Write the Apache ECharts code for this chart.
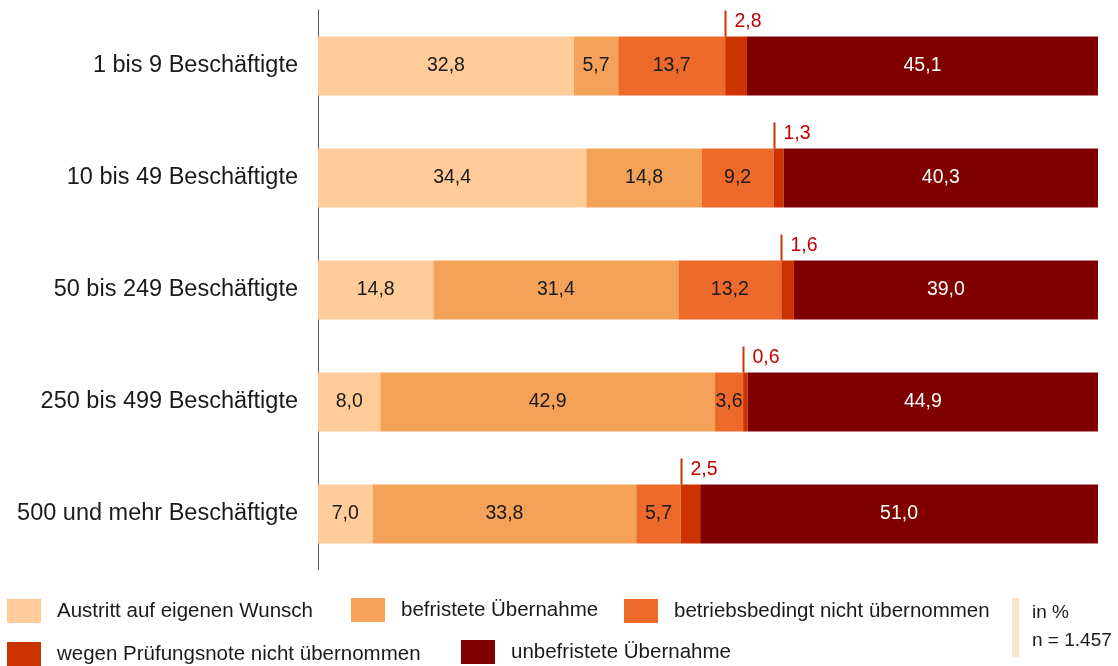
<!DOCTYPE html>
<html lang="de">
<head>
    <meta charset="UTF-8">
    <title>Verbleib nach Ausbildung</title>
    <style type="text/css">
        html,body{margin:0;padding:0;background:#fff;}
        #main{width:1118px;height:666px;}
    </style>
</head>
<body>
<div id="main"></div>
<script src="https://cdn.jsdelivr.net/npm/echarts@6/dist/echarts.min.js"></script>
<script>
    // Kategorien und Werte (in %)
    var categories = ['1 bis 9 Beschäftigte', '10 bis 49 Beschäftigte', '50 bis 249 Beschäftigte',
        '250 bis 499 Beschäftigte', '500 und mehr Beschäftigte'];
    var austritt = [32.8, 34.4, 14.8, 8.0, 7.0];
    var befristet = [5.7, 14.8, 31.4, 42.9, 33.8];
    var betriebsbedingt = [13.7, 9.2, 13.2, 3.6, 5.7];
    var pruefungsnote = [2.8, 1.3, 1.6, 0.6, 2.5];
    var unbefristet = [45.1, 40.3, 39.0, 44.9, 51.0];

    var names = ['Austritt auf eigenen Wunsch', 'befristete Übernahme', 'betriebsbedingt nicht übernommen',
        'wegen Prüfungsnote nicht übernommen', 'unbefristete Übernahme'];
    var colors = ['#FFCC99', '#F4A25A', '#EE6A2A', '#CC3300', '#800000'];
    var font = 'Liberation Sans, Arial, sans-serif';

    function fmt(v) {
        return v.toFixed(1).replace('.', ',');
    }

    // Startpunkt der Prüfungsnote-Segmente für die Markierung oberhalb
    var markData = categories.map(function (c, i) {
        return [austritt[i] + befristet[i] + betriebsbedingt[i], i, pruefungsnote[i]];
    });

    function barSeries(idx, data, show, labelColor) {
        return {
            name: names[idx],
            type: 'bar',
            stack: 'total',
            barWidth: 59,
            itemStyle: {color: colors[idx]},
            label: {
                show: show,
                position: 'inside',
                color: labelColor,
                fontFamily: font,
                fontSize: 19.5,
                padding: [4, 0, 0, 0],
                formatter: function (p) { return fmt(p.value); }
            },
            emphasis: {disabled: true},
            data: data
        };
    }

    var myChart = echarts.init(document.getElementById('main'));

    var legendPos = [
        {left: 7, top: 599},
        {left: 351, top: 598},
        {left: 624, top: 599},
        {left: 7, top: 642},
        {left: 461, top: 640}
    ];

    option = {
        animation: false,
        grid: {left: 318, right: 20, top: 10, height: 560},
        legend: legendPos.map(function (pos, i) {
            return {
                left: pos.left,
                top: pos.top,
                padding: 0,
                itemWidth: 34,
                itemHeight: 24,
                icon: 'rect',
                selectedMode: false,
                textStyle: {fontFamily: font, fontSize: 20.5, color: '#1a1a1a', padding: [3, 0, 0, 11]},
                data: [names[i]]
            };
        }),
        xAxis: {
            type: 'value',
            min: 0,
            max: 100,
            show: false
        },
        yAxis: {
            type: 'category',
            inverse: true,
            data: categories,
            axisTick: {show: false},
            axisLine: {lineStyle: {color: '#595959', width: 1}},
            axisLabel: {fontFamily: font, fontSize: 23.5, color: '#1a1a1a', margin: 20, padding: [4, 0, 0, 0]}
        },
        graphic: [
            {type: 'rect', left: 1012, top: 598, shape: {width: 7, height: 59}, style: {fill: '#FDE4CC'}},
            {type: 'text', left: 1032, top: 603, style: {text: 'in %', font: '19px ' + font, fill: '#1a1a1a'}},
            {type: 'text', left: 1032, top: 631, style: {text: 'n = 1.457', font: '19px ' + font, fill: '#1a1a1a'}}
        ],
        series: [
            barSeries(0, austritt, true, '#1a1a1a'),
            barSeries(1, befristet, true, '#1a1a1a'),
            barSeries(2, betriebsbedingt, true, '#1a1a1a'),
            barSeries(3, pruefungsnote, false, '#fff'),
            barSeries(4, unbefristet, true, '#fff'),
            {
                type: 'custom',
                silent: true,
                z: 5,
                data: markData,
                renderItem: function (params, api) {
                    var pt = api.coord([api.value(0), api.value(1)]);
                    var x = Math.round(pt[0]) + 0.5;
                    var top = pt[1] - 29.5;
                    return {
                        type: 'group',
                        children: [{
                            type: 'line',
                            shape: {x1: x, y1: top - 26, x2: x, y2: top},
                            style: {stroke: '#CC3300', lineWidth: 2}
                        }, {
                            type: 'text',
                            style: {
                                x: x + 9,
                                y: top - 25,
                                text: fmt(api.value(2)),
                                font: '19.5px ' + font,
                                fill: '#C00000',
                                textVerticalAlign: 'top'
                            }
                        }]
                    };
                }
            }
        ]
    };

    myChart.setOption(option);
</script>
</body>
</html>
